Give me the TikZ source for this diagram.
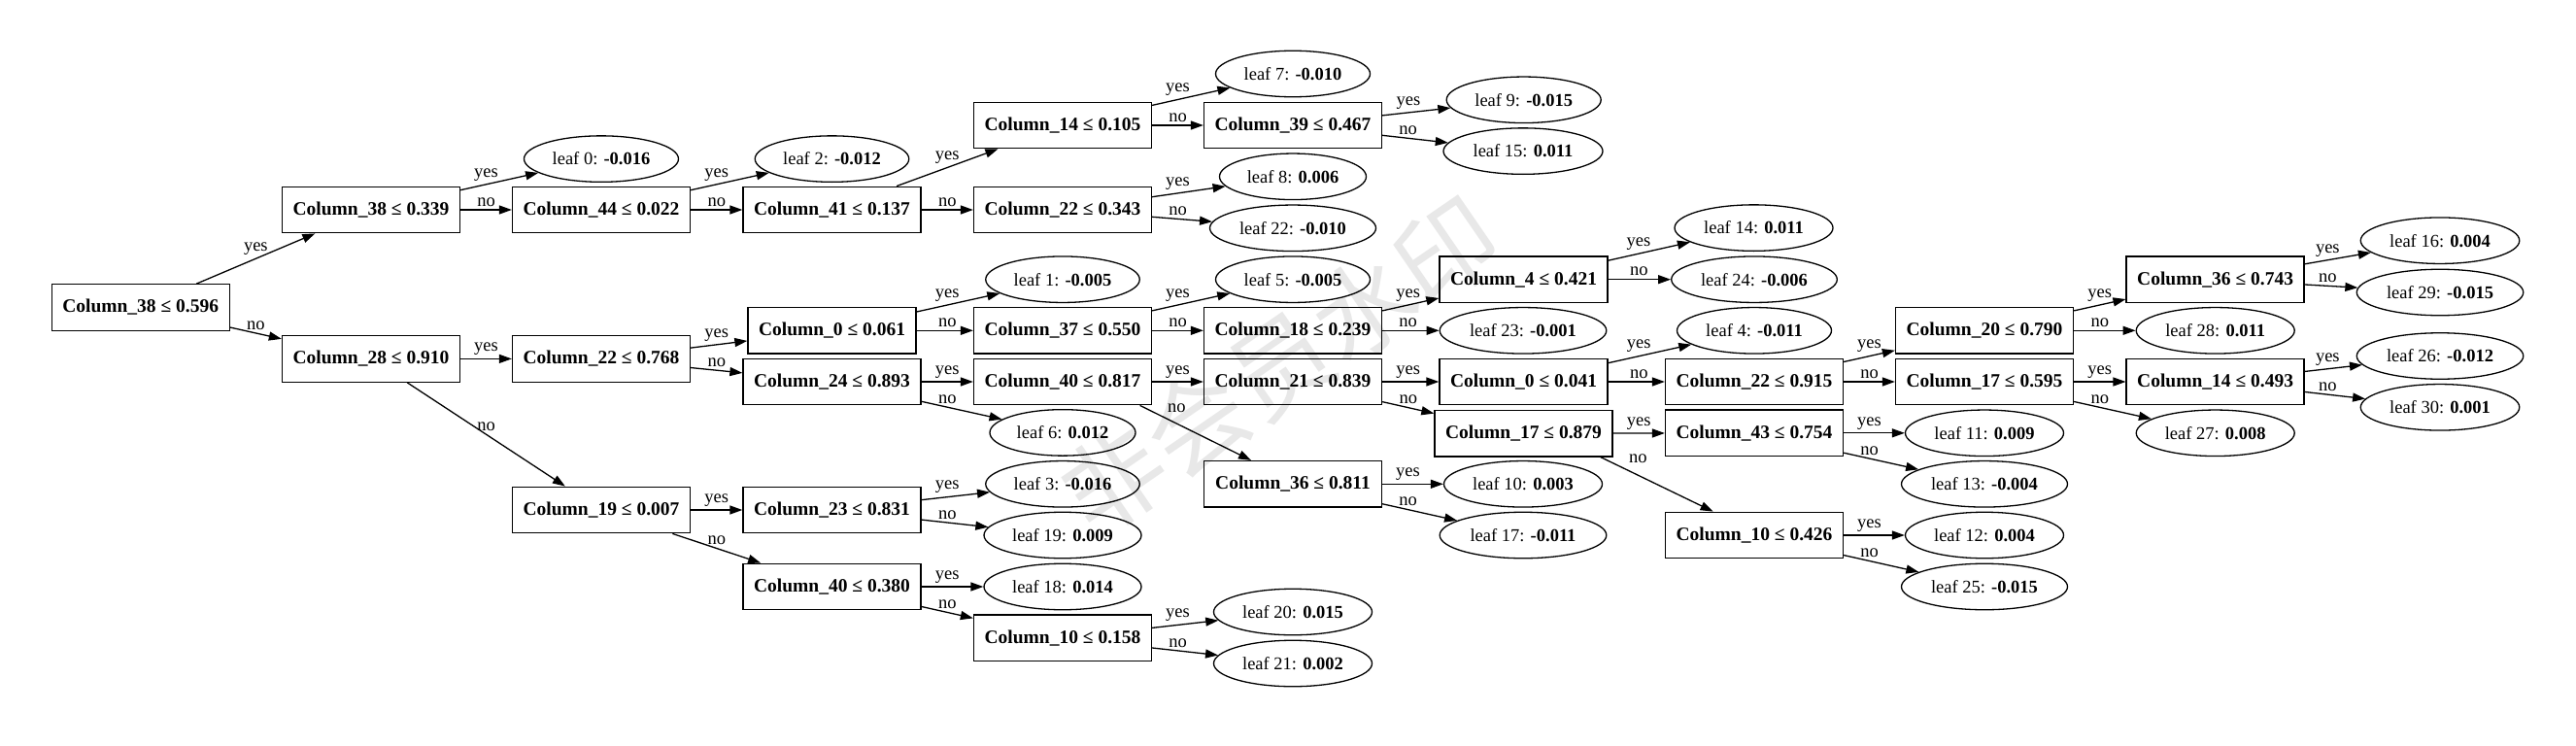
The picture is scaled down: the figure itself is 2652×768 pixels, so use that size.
\documentclass[tikz,border=0pt]{standalone}
\usepackage{fontspec}
\setmainfont{Liberation Serif}
\newfontfamily\cjk{Noto Sans CJK SC}
\usetikzlibrary{shapes.geometric,arrows.meta}
\newcommand\fs{\fontsize{18.5}{22}\selectfont}
\newcommand\fb{\fontsize{19.5}{23}\selectfont}
\newcommand\yn[3]{\draw[edge] (#1) -- (#2); \path (#1.center) -- node[lab,above]{yes} (#2.center);
  \draw[edge] (#1) -- (#3); \path (#1.center) -- node[lab,above]{no} (#3.center);}
\begin{document}
\begin{tikzpicture}[x=1pt,y=-1pt,
  box/.style={draw, line width=1.3pt, rectangle, minimum width=183pt, minimum height=47.5pt, inner sep=0pt, font=\bfseries\fb},
  leaf/.style={draw, line width=1.3pt, ellipse, minimum height=47.5pt, inner sep=0pt, font=\fs},
  edge/.style={line width=1.3pt, -{Triangle[length=13pt,width=9pt]}},
  lab/.style={font=\fs, inner sep=3.5pt},
  wm/.style={text=black!9, font=\cjk\fontsize{104}{110}\selectfont, inner sep=0pt}]
\useasboundingbox (0,0) rectangle (2652,768);
\fill[white] (0,0) rectangle (2652,768);
\node[wm, rotate=34.5] (wmark) at (1318,376) {非会员水印};
% column 0-2
\node[box] (r) at (144.7,316.5) {Column\_38 ≤ 0.596};
\node[box] (a) at (382,216) {Column\_38 ≤ 0.339};
\node[box] (b) at (382,369.4) {Column\_28 ≤ 0.910};
\node[leaf, minimum width=159pt] (l0) at (619,163.6) {leaf 0: \textbf{-0.016}};
\node[box] (c44) at (619,216) {Column\_44 ≤ 0.022};
\node[box] (c22a) at (619,369.4) {Column\_22 ≤ 0.768};
\node[box] (c19) at (619,525) {Column\_19 ≤ 0.007};
% column 3
\node[leaf, minimum width=158.5pt] (l2) at (856.5,163.6) {leaf 2: \textbf{-0.012}};
\node[box] (c41) at (856.5,216) {Column\_41 ≤ 0.137};
\node[box, minimum width=173pt] (c0a) at (856.5,340.3) {Column\_0 ≤ 0.061};
\node[box] (c24) at (856.5,393) {Column\_24 ≤ 0.893};
\node[box] (c23) at (856.5,525) {Column\_23 ≤ 0.831};
\node[box] (c40a) at (856.5,604) {Column\_40 ≤ 0.380};
% column 4
\node[box] (c14a) at (1094,129) {Column\_14 ≤ 0.105};
\node[box] (c22b) at (1094,216) {Column\_22 ≤ 0.343};
\node[leaf, minimum width=158.5pt] (l1) at (1094,287.7) {leaf 1: \textbf{-0.005}};
\node[box] (c37) at (1094,340.3) {Column\_37 ≤ 0.550};
\node[box] (c40b) at (1094,393) {Column\_40 ≤ 0.817};
\node[leaf, minimum width=150pt] (l6) at (1094,445.4) {leaf 6: \textbf{0.012}};
\node[leaf, minimum width=158.5pt] (l3) at (1094,498.3) {leaf 3: \textbf{-0.016}};
\node[leaf, minimum width=162pt] (l19) at (1094,551) {leaf 19: \textbf{0.009}};
\node[leaf, minimum width=162pt] (l18) at (1094,604) {leaf 18: \textbf{0.014}};
\node[box] (c10a) at (1094,656.8) {Column\_10 ≤ 0.158};
% column 5
\node[leaf, minimum width=159pt] (l7) at (1331,76) {leaf 7: \textbf{-0.010}};
\node[box] (c39) at (1331,129) {Column\_39 ≤ 0.467};
\node[leaf, minimum width=151pt] (l8) at (1331,181.8) {leaf 8: \textbf{0.006}};
\node[leaf, minimum width=171pt] (l22) at (1331,234.8) {leaf 22: \textbf{-0.010}};
\node[leaf, minimum width=159pt] (l5) at (1331,287.7) {leaf 5: \textbf{-0.005}};
\node[box] (c18) at (1331,340.3) {Column\_18 ≤ 0.239};
\node[box] (c21) at (1331,393) {Column\_21 ≤ 0.839};
\node[box] (c36a) at (1331,498.3) {Column\_36 ≤ 0.811};
\node[leaf, minimum width=163pt] (l20) at (1331,630) {leaf 20: \textbf{0.015}};
\node[leaf, minimum width=163pt] (l21) at (1331,683) {leaf 21: \textbf{0.002}};
% column 6
\node[leaf, minimum width=159pt] (l9) at (1568.7,102.8) {leaf 9: \textbf{-0.015}};
\node[leaf, minimum width=164pt] (l15) at (1568,155.6) {leaf 15: \textbf{0.011}};
\node[box, minimum width=173pt] (c4) at (1568.5,287.7) {Column\_4 ≤ 0.421};
\node[leaf, minimum width=171.6pt] (l23) at (1568,340.3) {leaf 23: \textbf{-0.001}};
\node[box, minimum width=173pt] (c0b) at (1568.5,393) {Column\_0 ≤ 0.041};
\node[box] (c17a) at (1568.5,446.2) {Column\_17 ≤ 0.879};
\node[leaf, minimum width=163pt] (l10) at (1568,498.3) {leaf 10: \textbf{0.003}};
\node[leaf, minimum width=171.6pt] (l17) at (1568,551) {leaf 17: \textbf{-0.011}};
% column 7
\node[leaf, minimum width=163pt] (l14) at (1805.5,234.6) {leaf 14: \textbf{0.011}};
\node[leaf, minimum width=170.6pt] (l24) at (1806,287.7) {leaf 24: \textbf{-0.006}};
\node[leaf, minimum width=159pt] (l4) at (1806,340.3) {leaf 4: \textbf{-0.011}};
\node[box] (c22c) at (1806,393) {Column\_22 ≤ 0.915};
\node[box] (c43) at (1806,445.8) {Column\_43 ≤ 0.754};
\node[box] (c10b) at (1806,551) {Column\_10 ≤ 0.426};
% column 8
\node[box] (c20) at (2043,340.3) {Column\_20 ≤ 0.790};
\node[box] (c17b) at (2043,393) {Column\_17 ≤ 0.595};
\node[leaf, minimum width=163pt] (l11) at (2043,445.8) {leaf 11: \textbf{0.009}};
\node[leaf, minimum width=171pt] (l13) at (2043,498.3) {leaf 13: \textbf{-0.004}};
\node[leaf, minimum width=163pt] (l12) at (2043,551) {leaf 12: \textbf{0.004}};
\node[leaf, minimum width=171pt] (l25) at (2043,604) {leaf 25: \textbf{-0.015}};
% column 9
\node[box] (c36b) at (2280.6,287.7) {Column\_36 ≤ 0.743};
\node[leaf, minimum width=163pt] (l28) at (2280.7,340.3) {leaf 28: \textbf{0.011}};
\node[box] (c14b) at (2280.6,393) {Column\_14 ≤ 0.493};
\node[leaf, minimum width=163pt] (l27) at (2280.7,445.8) {leaf 27: \textbf{0.008}};
% column 10
\node[leaf, minimum width=163.5pt] (l16) at (2512,247.7) {leaf 16: \textbf{0.004}};
\node[leaf, minimum width=171.5pt] (l29) at (2512,301) {leaf 29: \textbf{-0.015}};
\node[leaf, minimum width=171.5pt] (l26) at (2512,366.5) {leaf 26: \textbf{-0.012}};
\node[leaf, minimum width=163.5pt] (l30) at (2512,419.3) {leaf 30: \textbf{0.001}};
% edges
\yn{r}{a}{b}
\yn{a}{l0}{c44}
\yn{c44}{l2}{c41}
\yn{c41}{c14a}{c22b}
\yn{c14a}{l7}{c39}
\yn{c39}{l9}{l15}
\yn{c22b}{l8}{l22}
\yn{b}{c22a}{c19}
\yn{c22a}{c0a}{c24}
\yn{c0a}{l1}{c37}
\yn{c37}{l5}{c18}
\yn{c18}{c4}{l23}
\yn{c4}{l14}{l24}
\yn{c24}{c40b}{l6}
\draw[edge] (c40b) -- (c21);
\path (c40b.center) -- node[lab,above]{yes} (c21.center);
\draw[edge] ([xshift=-12.6pt]c40b.south east) -- node[lab,above,pos=0.33,yshift=7pt]{no} ([xshift=-43pt]c36a.north);
\yn{c21}{c0b}{c17a}
\yn{c0b}{l4}{c22c}
\yn{c22c}{c20}{c17b}
\yn{c20}{c36b}{l28}
\yn{c36b}{l16}{l29}
\yn{c17b}{c14b}{l27}
\yn{c14b}{l26}{l30}
\draw[edge] (c17a) -- (c43);
\path (c17a.center) -- node[lab,above]{yes} (c43.center);
\draw[edge] ([xshift=-12.8pt]c17a.south east) -- node[lab,above,pos=0.333,yshift=8.5pt]{no} ([xshift=-42.4pt]c10b.north);
\yn{c43}{l11}{l13}
\yn{c10b}{l12}{l25}
\yn{c36a}{l10}{l17}
\yn{c19}{c23}{c40a}
\yn{c23}{l3}{l19}
\yn{c40a}{l18}{c10a}
\yn{c10a}{l20}{l21}
\end{tikzpicture}
\end{document}
